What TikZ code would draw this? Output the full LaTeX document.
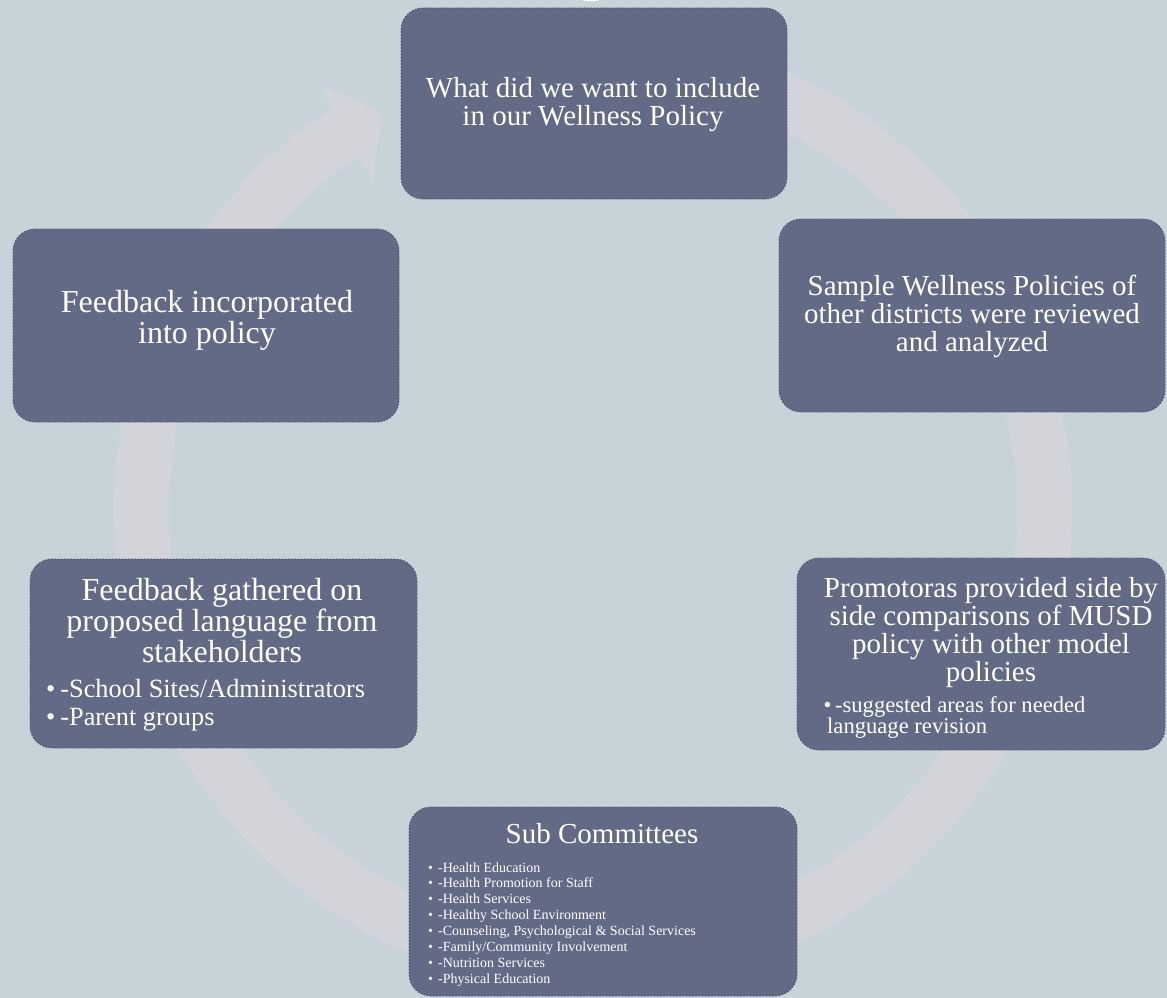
\documentclass[tikz,border=0pt]{standalone}
\usepackage{fontspec}
\setmainfont{Liberation Serif}
\definecolor{bg}{HTML}{C7D2D9}
\definecolor{ringc}{HTML}{D2D4DA}
\definecolor{boxfill}{HTML}{636A86}
\definecolor{boxline}{HTML}{4E556D}
\begin{document}
\begin{tikzpicture}[x=1pt,y=-1pt,
  stagebox/.style={draw=boxline, fill=boxfill, line width=0.9pt, dash pattern=on 1.6pt off 1.6pt, rounded corners=22pt, inner sep=0pt},
  txt/.style={text=white, inner sep=0pt}]
\useasboundingbox[fill=bg] (0,0) rectangle (1167,998);
% small white shape at top edge
\fill[white] (591,-5) ellipse[x radius=14, y radius=6.5];
% circular arrow
\begin{scope}[shift={(593,510)}, yscale=-1]
\fill[ringc] (95:479) arc[start angle=95, end angle=-237, radius=479]
  -- (122.5:504) -- (118:450) -- (123.9:394) -- (-236.4:424)
  arc[start angle=-236.4, end angle=95, radius=424] -- cycle;
\end{scope}
% boxes
\node[stagebox, minimum width=386pt, minimum height=191pt] (want) at (594,103.5) {};
\node[stagebox, minimum width=386pt, minimum height=193pt] (sample) at (972,315.5) {};
\node[stagebox, minimum width=386pt, minimum height=193pt] (incorp) at (206,325.5) {};
\node[stagebox, minimum width=387pt, minimum height=189pt] (gathered) at (223.5,653.5) {};
\node[stagebox, minimum width=368pt, minimum height=192pt] (promot) at (981,654) {};
\node[stagebox, minimum width=388pt, minimum height=189pt] (subcom) at (603,901.5) {};
% texts
\node[txt, anchor=base, font=\fontsize{29}{28}\selectfont] (wantT) at (593,97)
  {\begin{tabular}[t]{@{}c@{}}What did we want to include\\in our Wellness Policy\end{tabular}};
\node[txt, anchor=base, font=\fontsize{29}{27}\selectfont] (sampleT) at (972,295)
  {\begin{tabular}[t]{@{}c@{}}Sample Wellness Policies of\\other districts were reviewed\\and analyzed\end{tabular}};
\node[txt, anchor=base, font=\fontsize{32}{31}\selectfont] (incorpT) at (207,312)
  {\begin{tabular}[t]{@{}c@{}}Feedback incorporated\\into policy\end{tabular}};
\node[txt, anchor=base, font=\fontsize{32}{29.5}\selectfont] (gatheredT) at (222,600)
  {\begin{tabular}[t]{@{}c@{}}Feedback gathered on\\proposed language from\\stakeholders\end{tabular}};
\node[txt, anchor=base west, font=\fontsize{26.3}{28}\selectfont] (gatheredB) at (46,697)
  {\begin{tabular}[t]{@{}l@{}}\textbullet\hspace{5pt}-School Sites/Administrators\\\textbullet\hspace{5pt}-Parent groups\end{tabular}};
\node[txt, anchor=base, font=\fontsize{29}{26.5}\selectfont] (promotT) at (991,597)
  {\begin{tabular}[t]{@{}c@{}}Promotoras provided side by\\side comparisons of MUSD\\policy with other model\\policies\end{tabular}};
\node[txt, anchor=base west, font=\fontsize{22.6}{21}\selectfont] (promotB) at (823.5,712)
  {\begin{tabular}[t]{@{}l@{}}\textbullet\hspace{3.5pt}-suggested areas for needed\\\hspace{3.5pt}language revision\end{tabular}};
\node[txt, anchor=base, font=\fontsize{29}{28}\selectfont] (subcomT) at (602,843) {Sub Committees};
\node[txt, anchor=base west, font=\fontsize{14}{15.9}\selectfont] (subcomB) at (428,872)
  {\begin{tabular}[t]{@{}l@{}}
  \textbullet\hspace{5pt}-Health Education\\
  \textbullet\hspace{5pt}-Health Promotion for Staff\\
  \textbullet\hspace{5pt}-Health Services\\
  \textbullet\hspace{5pt}-Healthy School Environment\\
  \textbullet\hspace{5pt}-Counseling, Psychological \& Social Services\\
  \textbullet\hspace{5pt}-Family/Community Involvement\\
  \textbullet\hspace{5pt}-Nutrition Services\\
  \textbullet\hspace{5pt}-Physical Education
  \end{tabular}};
\end{tikzpicture}
\end{document}
